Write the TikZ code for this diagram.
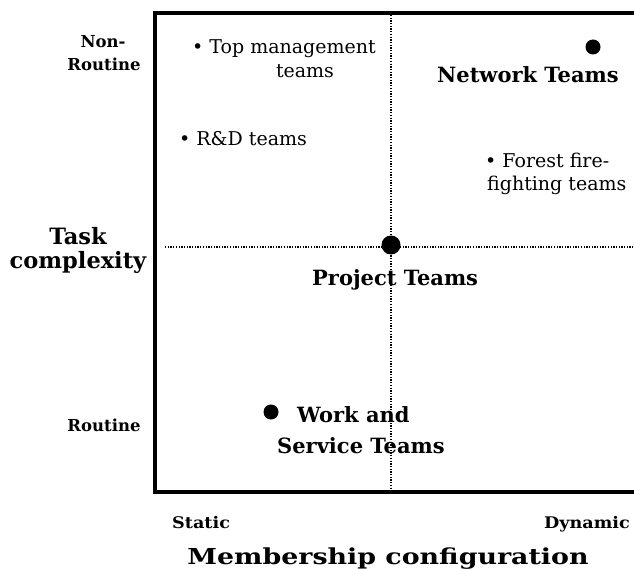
\documentclass[tikz,border=0pt]{standalone}
\usepackage{fontspec}
\setmainfont{DejaVu Serif}
\newfontfamily\widefont[FakeStretch=1.22]{DejaVu Serif}
\newfontfamily\semiwidefont[FakeStretch=1.1]{DejaVu Serif}
\begin{document}
\begin{tikzpicture}[x=1pt,y=-1pt,
  lbl/.style={inner sep=0pt, anchor=base west},
  reg/.style={lbl, font=\fontsize{19}{22}\selectfont},
  teamlbl/.style={lbl, font=\bfseries\fontsize{21}{24}\selectfont},
  axlbl/.style={lbl, font=\bfseries\fontsize{16.5}{19}\selectfont},
  endlbl/.style={lbl, font=\semiwidefont\bfseries\fontsize{16}{19}\selectfont},
  bigdot/.style={circle, fill=black, inner sep=0pt, minimum size=#1},
  grid/.style={line width=1.3pt, dash pattern=on 1.3pt off 1.4pt},
  frame/.style={line width=3.6pt}]
\useasboundingbox (0,0) rectangle (634,569);
% frame
\coordinate (tr) at (634,13);
\coordinate (tl) at (155,13);
\coordinate (bl) at (155,492);
\coordinate (br) at (634,492);
\draw[frame] (tr) -- (tl) -- (bl) -- (br);
% dotted axes
\coordinate (vt) at (391,15);
\coordinate (vb) at (391,490);
\coordinate (hl) at (165,247);
\coordinate (hr) at (634,247);
\draw[grid] (vt) -- (vb);
\draw[grid] (hl) -- (hr);
% big dots
\node[bigdot=19pt] (pdot) at (391,245) {};
\node[bigdot=15pt] (ndot) at (593,47) {};
\node[bigdot=15pt] (wdot) at (271,412) {};
% team labels
\node[teamlbl] (nt) at (437,83) {Network Teams};
\node[teamlbl] (pt) at (312,285) {Project Teams};
\node[teamlbl] (wt1) at (297,422) {Work and};
\node[teamlbl] (wt2) at (277,453) {Service Teams};
% examples
\node[reg] (tm1) at (192,54) {• Top management};
\node[reg, anchor=base] (tm2) at (305,78) {teams};
\node[reg] (rd) at (179,146) {• R\&D teams};
\node[reg] (ff1) at (485,168) {• Forest fire-};
\node[reg] (ff2) at (487,191) {fighting teams};
% axis labels
\node[axlbl, anchor=base] (nr1) at (103,48) {Non-};
\node[axlbl, anchor=base] (nr2) at (104,71) {Routine};
\node[axlbl, anchor=base] (rt) at (104,431) {Routine};
\node[lbl, anchor=base, font=\bfseries\fontsize{22.5}{26}\selectfont] (tc1) at (78,244) {Task};
\node[lbl, anchor=base, font=\bfseries\fontsize{22.5}{26}\selectfont] (tc2) at (78,269) {complexity};
\node[endlbl] (st) at (172,528) {Static};
\node[endlbl, anchor=base east] (dy) at (630,528) {Dynamic};
\node[lbl, anchor=base, font=\widefont\bfseries\fontsize{22}{26}\selectfont] (mc) at (388,564) {Membership configuration};
\end{tikzpicture}
\end{document}
